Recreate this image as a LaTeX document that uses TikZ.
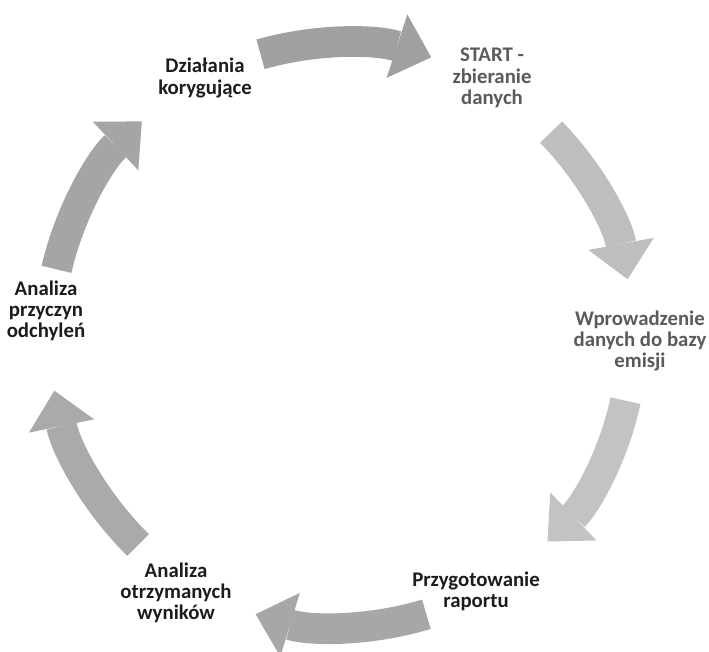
\documentclass[tikz,border=0pt]{standalone}
\usepackage{fontspec}
\setmainfont{Carlito}
\usepackage{xcolor}
\usepackage{tikz}
\usetikzlibrary{arrows.meta,calc}

\definecolor{arA}{HTML}{A0A0A0}
\definecolor{arB}{HTML}{BEBEBE}
\definecolor{arC}{HTML}{C3C3C3}
\definecolor{arD}{HTML}{A7A7A7}
\definecolor{arE}{HTML}{AAAAAA}
\definecolor{arF}{HTML}{A5A5A5}
\definecolor{txdark}{HTML}{1C1C1C}
\definecolor{txgray}{HTML}{5A5A5A}

\begin{document}
\begin{tikzpicture}[x=0.75pt,y=0.75pt,
  st/.style={font=\bfseries\fontsize{15.6}{15.9}\selectfont,align=center,text=txdark,inner sep=1pt},
  cyc/.style={line width=23pt,-{Triangle[length=27pt,width=50pt,line width=0pt]},bend left=17,looseness=0.87}]
  \useasboundingbox (0,0) rectangle (709,651);
  \coordinate (O) at (341,316);
  % steps of the cycle
  \node[st] (kor) at (205,573) {Działania\\ korygujące};
  \node[st,text=txgray] (start) at (492,573) {START -\\ zbieranie\\ danych};
  \node[st,text=txgray] (wpr) at (640,310) {Wprowadzenie\\ danych do bazy\\ emisji};
  \node[st] (rap) at (476,60) {Przygotowanie\\ raportu};
  \node[st] (wyn) at (176,58) {Analiza\\ otrzymanych\\ wyników};
  \node[st] (odch) at (46,340) {Analiza\\ przyczyn\\ odchyleń};
  % ends of the block arrows on the circle
  \coordinate (a1) at ($(O)+(106:292)$); \coordinate (b1) at ($(O)+(72:292)$);
  \coordinate (a2) at ($(O)+(44:292)$);  \coordinate (b2) at ($(O)+(11:292)$);
  \coordinate (a3) at ($(O)+(-13:292)$); \coordinate (b3) at ($(O)+(-45:292)$);
  \coordinate (a4) at ($(O)+(-73:292)$); \coordinate (b4) at ($(O)+(-107:292)$);
  \coordinate (a5) at ($(O)+(226:292)$); \coordinate (b5) at ($(O)+(191:292)$);
  \coordinate (a6) at ($(O)+(167:292)$); \coordinate (b6) at ($(O)+(133:292)$);
  \draw[cyc,draw=arA] (a1) to (b1);
  \draw[cyc,draw=arB] (a2) to (b2);
  \draw[cyc,draw=arC] (a3) to (b3);
  \draw[cyc,draw=arD] (a4) to (b4);
  \draw[cyc,draw=arE] (a5) to (b5);
  \draw[cyc,draw=arF] (a6) to (b6);
\end{tikzpicture}
\end{document}
